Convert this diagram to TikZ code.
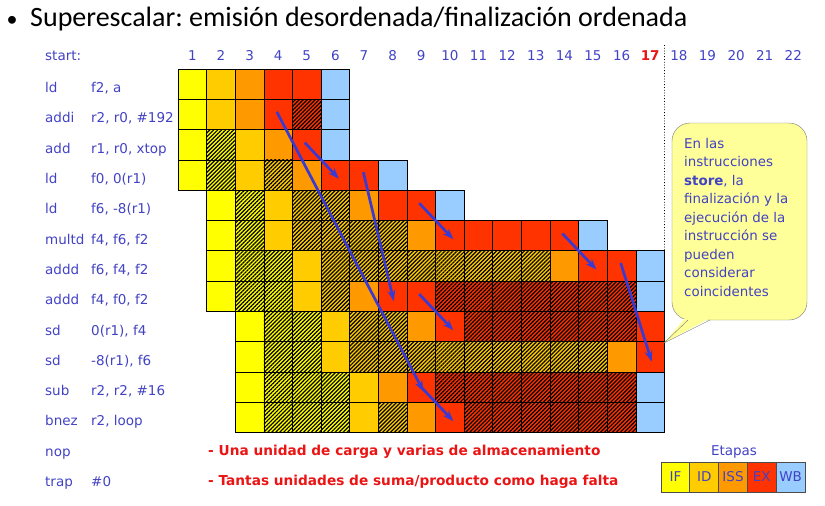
\documentclass[tikz,border=0pt]{standalone}
\usepackage{fontspec}
\setmainfont{DejaVu Sans}
\newfontfamily\titlefont{Carlito}
\usetikzlibrary{arrows.meta, patterns.meta}
\frenchspacing
\definecolor{codeBlue}{RGB}{66,66,196}
\definecolor{arrowBlue}{RGB}{58,58,210}
\definecolor{stIF}{HTML}{FFFF00}
\definecolor{stID}{HTML}{FFCC00}
\definecolor{stISS}{HTML}{FF9900}
\definecolor{stEX}{HTML}{FF3300}
\definecolor{stWB}{HTML}{99CCFF}
\definecolor{noteYellow}{HTML}{FFFF99}
\definecolor{noteGrey}{RGB}{120,120,120}
\definecolor{warnRed}{RGB}{235,20,20}

\tikzset{
  cell/.style={draw=black, line width=0.7pt, minimum width=28.62pt, minimum height=30.3pt, inner sep=0pt, outer sep=0pt},
  hatch/.style={postaction={pattern={Lines[angle=45,distance=2.8pt,line width=1.2pt]}, pattern color=black}},
  IF/.style={fill=stIF}, ID/.style={fill=stID}, ISS/.style={fill=stISS},
  EX/.style={fill=stEX}, WB/.style={fill=stWB},
  IFw/.style={fill=stIF, hatch}, IDw/.style={fill=stID, hatch}, EXw/.style={fill=stEX, hatch},
  code/.style={text=codeBlue, anchor=base west, inner sep=0pt},
  dep/.style={arrowBlue, line width=2.7pt, -{Stealth[length=11pt,width=8pt]}, shorten <=-3pt, shorten >=-5pt},
  warn/.style={text=warnRed, font=\bfseries\fontsize{13.7}{16}\selectfont, anchor=base west, inner sep=0pt},
}

\begin{document}
\begin{tikzpicture}[x=1pt, y=-1pt, font=\fontsize{13.5}{16}\selectfont]
\useasboundingbox (0,0) rectangle (825,506);

% Title
\node[font=\titlefont\fontsize{22}{26}\selectfont, anchor=base] (bullet) at (12,26) {\textbullet};
\node[font=\titlefont\fontsize{28}{32}\selectfont, anchor=base west, inner sep=0pt] (title) at (30,27) {Superescalar: emisión desordenada/finalización ordenada};

% Cycle numbers
\node[code] (start) at (45,60.5) {start:};
\foreach \col in {1,...,16,18,19,...,22} {
  \node[text=codeBlue, anchor=base] (h\col) at ({178+(\col-0.5)*28.62},60.5) {\col};
}
\node[text=warnRed, anchor=base, font=\bfseries\fontsize{13.5}{16}\selectfont] (h17) at ({178+16.5*28.62},60.5) {17};

% Instructions
\foreach \row/\op/\args in {1/ld/{f2, a}, 2/addi/{r2, r0, \#192}, 3/add/{r1, r0, xtop},
    4/ld/{f0, 0(r1)}, 5/ld/{f6, -8(r1)}, 6/multd/{f4, f6, f2}, 7/addd/{f6, f4, f2},
    8/addd/{f4, f0, f2}, 9/sd/{0(r1), f4}, 10/sd/{-8(r1), f6}, 11/sub/{r2, r2, \#16},
    12/bnez/{r2, loop}, 13/nop/{}, 14/trap/{\#0}} {
  \node[code] (op\row) at (45,{69+(\row-0.5)*30.3+8.5}) {\op};
  \node[code] (arg\row) at (91,{69+(\row-0.5)*30.3+8.5}) {\args};
}

% Stage cells
\foreach \row/\first/\stages in {
    1/1/{IF,ID,ISS,EX,EX,WB},
    2/1/{IF,ID,ISS,EX,EXw,WB},
    3/1/{IF,IFw,ID,ISS,EX,WB},
    4/1/{IF,IFw,ID,IDw,ISS,EX,EX,WB},
    5/2/{IF,IFw,ID,IDw,IDw,ISS,EX,EX,WB},
    6/2/{IF,IFw,ID,IDw,IDw,IDw,IDw,ISS,EX,EX,EX,EX,EX,WB},
    7/2/{IF,IFw,IFw,ID,IDw,IDw,IDw,IDw,IDw,IDw,IDw,IDw,ISS,EX,EX,WB},
    8/2/{IF,IFw,IFw,ID,IDw,ISS,EX,EX,EXw,EXw,EXw,EXw,EXw,EXw,EXw,WB},
    9/3/{IF,IFw,IFw,ID,IDw,IDw,ISS,EX,EXw,EXw,EXw,EXw,EXw,EXw,EX},
    10/3/{IF,IFw,IFw,ID,IDw,IDw,IDw,IDw,IDw,IDw,IDw,IDw,IDw,ISS,EX},
    11/3/{IF,IFw,IFw,IFw,ID,ISS,EX,EXw,EXw,EXw,EXw,EXw,EXw,EXw,WB},
    12/3/{IF,IFw,IFw,IFw,ID,IDw,ISS,EX,EXw,EXw,EXw,EXw,EXw,EXw,WB}} {
  \foreach \st [count=\k] in \stages {
    \pgfmathtruncatemacro\col{\first+\k-1}
    \node[cell, \st] (r\row-\col) at ({178+(\col-0.5)*28.62},{69+(\row-0.5)*30.3}) {};
  }
}

% Cycle 17 marker
\coordinate (sepTop) at (664.5,45);
\draw[dotted, line width=0.8pt] (sepTop) -- (r7-17.north east);

% Dependencies
\foreach \a/\b in {r2-4/r11-9, r4-7/r8-8, r3-5/r4-6, r5-9/r6-10,
    r6-14/r7-15, r7-16/r10-17, r8-9/r9-10, r11-9/r12-10} {
  \draw[dep] (\a.center) -- (\b.center);
}

% Note
\node[draw=noteGrey, fill=noteYellow, rounded corners=18pt, minimum width=135pt, minimum height=197pt] (note) at (739.5,221.5) {};
\fill[noteYellow] (686,317) -- (664,343) -- (712,317) -- cycle;
\draw[noteGrey] (688,320) -- (664,343) -- (710,320);
\node[text=codeBlue, anchor=north west, align=left, inner sep=0pt, font=\fontsize{13.4}{18.5}\selectfont] (noteText) at (684,138)
  {En las\\instrucciones\\\textbf{store}, la\\finalización y la\\ejecución de la\\instrucción se\\pueden\\considerar\\coincidentes};

% Remarks
\node[warn] (rem1) at (208,455) {- Una unidad de carga y varias de almacenamiento};
\node[warn] (rem2) at (208,485) {- Tantas unidades de suma/producto como haga falta};

% Legend
\node[text=codeBlue, anchor=base] (legTitle) at (734,455) {Etapas};
\foreach \st [count=\i] in {IF,ID,ISS,EX,WB} {
  \node[cell, \st, draw=black!70, text=codeBlue, minimum width=28.8pt] (leg\st) at ({661+(\i-0.5)*28.8},477) {\st};
}
\end{tikzpicture}
\end{document}
